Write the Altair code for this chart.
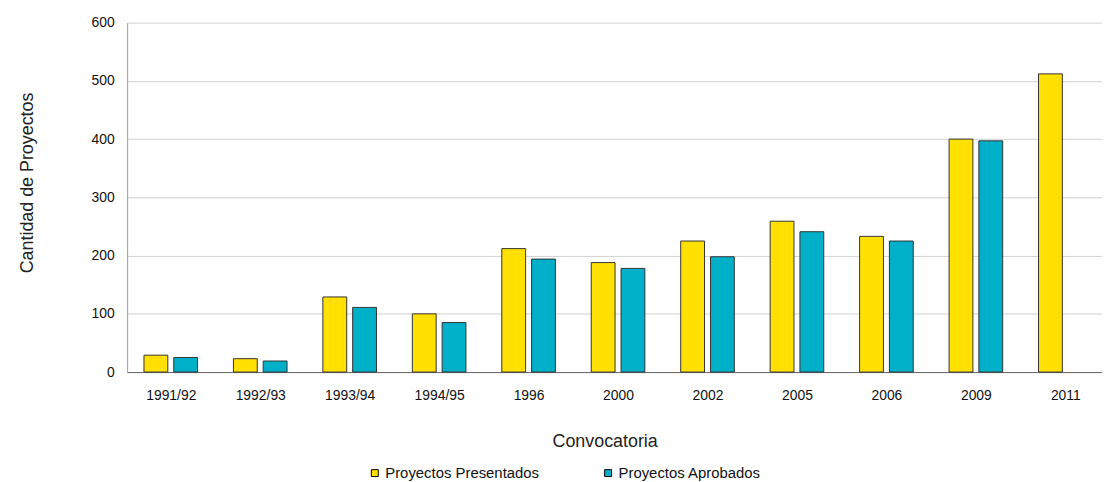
import altair as alt
import pandas as pd

categories = ["1991/92", "1992/93", "1993/94", "1994/95", "1996", "2000",
              "2002", "2005", "2006", "2009", "2011"]
presentados = [29, 23, 129, 100, 212, 188, 225, 259, 233, 400, 512]
aprobados = [25, 19, 111, 85, 194, 178, 198, 241, 225, 397, None]

series_names = ["Proyectos Presentados", "Proyectos Aprobados"]
series_colors = ["#FFE000", "#00AFC8"]

rows = []
for i, (c, p, a) in enumerate(zip(categories, presentados, aprobados)):
    rows.append({"idx": i, "Convocatoria": c, "Serie": series_names[0], "Valor": p})
    if a is not None:
        rows.append({"idx": i, "Convocatoria": c, "Serie": series_names[1], "Valor": a})
df = pd.DataFrame(rows)

FONT = "Liberation Sans"

cat_js = "[" + ",".join("'" + c + "'" for c in categories) + "]"

x_enc = alt.X("idx:Q",
              scale=alt.Scale(domain=[-0.488, 10.41], nice=False, zero=False, padding=0),
              axis=alt.Axis(title="Convocatoria", values=list(range(len(categories))),
                            labelExpr=cat_js + "[datum.value]",
                            labelAngle=0, ticks=False, grid=False,
                            labelPadding=17, titlePadding=30, titleX=481,
                            domainColor="#666666"))
y_enc = alt.Y("Valor:Q", scale=alt.Scale(domain=[0, 600]),
              axis=alt.Axis(title="Cantidad de Proyectos", values=[0, 100, 200, 300, 400, 500, 600],
                            ticks=False, labelPadding=13, titlePadding=55, titleY=161,
                            domainColor="#999999"))
color_enc = alt.Color("Serie:N", sort=series_names,
                      scale=alt.Scale(domain=series_names, range=series_colors),
                      legend=alt.Legend(title=None, orient="none", direction="horizontal",
                                        legendX=242, legendY=446, symbolType="square",
                                        symbolSize=49, symbolStrokeColor="#000000",
                                        symbolStrokeWidth=1, labelOffset=3,
                                        columnPadding=61, padding=0,
                                        labelFontSize=15, labelFont=FONT,
                                        labelColor="#111111"))

base = alt.Chart(df).encode(x=x_enc, y=y_enc, color=color_enc)

bars_p = base.transform_filter(
    alt.datum.Serie == series_names[0]
).mark_bar(stroke="#333333", strokeWidth=1, size=24, xOffset=-15)

bars_a = base.transform_filter(
    alt.datum.Serie == series_names[1]
).mark_bar(stroke="#333333", strokeWidth=1, size=24, xOffset=15)

chart = alt.layer(bars_p, bars_a).properties(
    width=982, height=352,
    autosize=alt.AutoSizeParams(type="none"),
    padding={"left": 120, "top": 13, "right": 0, "bottom": 110},
).configure_view(
    stroke=None
).configure_axis(
    labelFont=FONT, titleFont=FONT, labelFontSize=14, titleFontSize=18,
    labelColor="#111111", titleColor="#222222", titleFontWeight="normal",
    gridColor="#d0d0d0", gridWidth=1,
)

chart.save("out.html", embed_options={"renderer": "svg", "actions": False})
